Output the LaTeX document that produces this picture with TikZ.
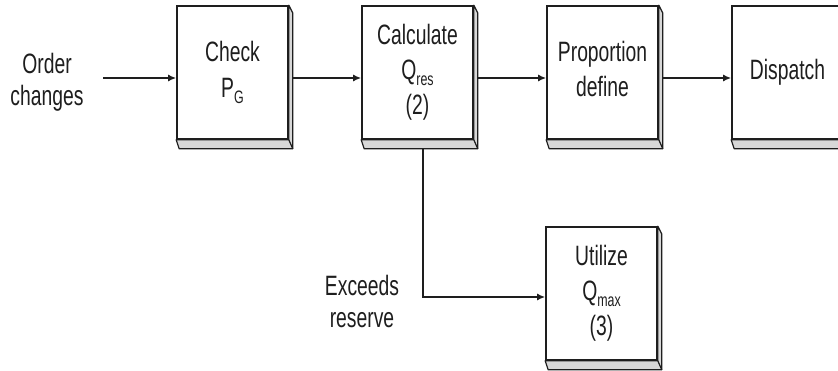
\documentclass[tikz,border=0pt]{standalone}
\usepackage{fontspec}
\setmainfont{Liberation Sans}
\usetikzlibrary{calc,arrows.meta}
\definecolor{ink}{HTML}{1E1E1E}
\definecolor{bev}{HTML}{D8D8D8}
\newcommand{\mysub}[1]{\raisebox{-0.22em}{\fontsize{18}{18}\selectfont #1}}
\newcommand{\lbl}[1]{\scalebox{0.69}[1]{\begin{tabular}{@{}c@{}}#1\end{tabular}}}
\tikzset{
  box/.style={draw=ink, line width=1.6pt, fill=white, minimum width=111pt, minimum height=133pt, inner sep=0pt, text=ink},
  bevelfill/.style={fill=bev, draw=ink, line width=1.2pt, line join=round},
  conn/.style={draw=ink, line width=1.8pt, -{Latex[length=8pt,width=7pt]}},
  txt/.style={text=ink, inner sep=0pt, font=\fontsize{28}{32}\selectfont},
  boxtext/.style={yshift=-2pt},
}
\begin{document}
\begin{tikzpicture}[x=1pt,y=-1pt,font=\fontsize{28}{35}\selectfont]
\useasboundingbox (0,0) rectangle (838,371);
\clip (0,0) rectangle (838,371);
\node[box] (chk)  at (232.5,72.5) {\lbl{Check\\[1pt]P\mysub{G}}};
\node[box] (calc) at (417.5,72.5) {\raisebox{-2pt}{\lbl{Calculate\\Q\mysub{res}\\(2)}}};
\node[box] (prop) at (602.5,72.5) {\lbl{Proportion\\define}};
\node[box] (disp) at (787.5,72.5) {\lbl{Dispatch}};
\node[box] (util) at (601.5,293.5) {\lbl{Utilize\\Q\mysub{max}\\(3)}};
\foreach \n in {chk,calc,prop,disp,util}{
  \filldraw[bevelfill] (\n.north east) -- ++(4,8) -- ($(\n.south east)+(4,9)$) -- ($(\n.south west)+(3,9)$) -- (\n.south west) -- (\n.south east) -- cycle;
  \draw[ink, line width=1.2pt] (\n.south east) -- ++(4,9);
}
\node[txt] (order) at (47,83) {\lbl{Order\\changes}};
\node[txt] (exc) at (362,305) {\lbl{Exceeds\\reserve}};
\coordinate (ostart) at (103,78);
\coordinate (bend) at (423,297);
\draw[conn] (ostart) -- (chk.west |- ostart);
\draw[conn] ($(chk.east |- ostart)+(4,0)$) -- (calc.west |- ostart);
\draw[conn] ($(calc.east |- ostart)+(4,0)$) -- (prop.west |- ostart);
\draw[conn] ($(prop.east |- ostart)+(4,0)$) -- (disp.west |- ostart);
\draw[conn] ($(calc.south -| bend)+(0,9)$) -- (bend) -- (util.west |- bend);
\end{tikzpicture}
\end{document}
